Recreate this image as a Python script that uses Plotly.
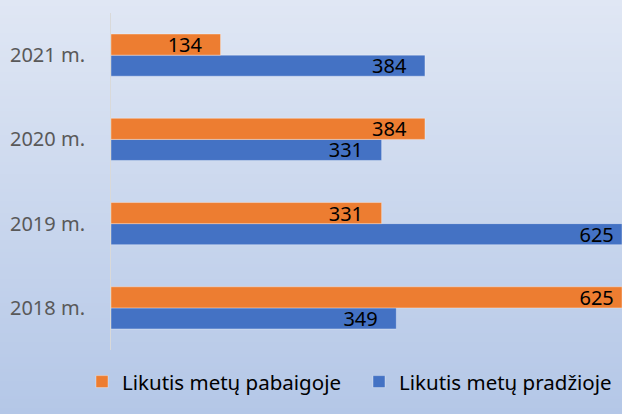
import plotly.graph_objects as go

categories = ["2018 m.", "2019 m.", "2020 m.", "2021 m."]
pabaigoje = [625, 331, 384, 134]
pradzioje = [349, 625, 331, 384]
series_names = ["Likutis metų pabaigoje", "Likutis metų pradžioje"]

FONT = "Noto Sans"
W, H = 622, 414
L, R, T, B = 111, 0, 13, 64
XMAX = 625

NB = "\u00a0"


def labels(vals):
    # Excel-like "inside end" padding; labels at the chart edge sit closer
    return [str(v) + (NB if v >= XMAX else NB * 3) for v in vals]


fig = go.Figure()
fig.add_trace(go.Bar(
    y=categories, x=pradzioje, orientation="h", name=series_names[1],
    marker=dict(color="#4472c4", line=dict(color="rgba(255,255,255,0.35)", width=1)),
    text=labels(pradzioje), textposition="inside", insidetextanchor="end",
    textfont=dict(family=FONT, size=20, color="#000000"), constraintext="none",
    legendrank=2, hoverinfo="skip",
))
fig.add_trace(go.Bar(
    y=categories, x=pabaigoje, orientation="h", name=series_names[0],
    marker=dict(color="#ed7d31", line=dict(color="rgba(255,255,255,0.35)", width=1)),
    text=labels(pabaigoje), textposition="inside", insidetextanchor="end",
    textfont=dict(family=FONT, size=20, color="#000000"), constraintext="none",
    legendrank=1, hoverinfo="skip",
))

# background gradient (stripes in paper coordinates)
ph = H - T - B
pw = W - L - R
shapes = []
top_c = (224, 231, 244)
bot_c = (180, 199, 231)
n = 138
for i in range(n):
    py0 = i * H / n
    py1 = (i + 1) * H / n + 0.6
    f = (i + 0.5) / n
    c = tuple(round(top_c[k] + (bot_c[k] - top_c[k]) * f) for k in range(3))
    y0 = (H - B - py1) / ph
    y1 = (H - B - py0) / ph
    shapes.append(dict(type="rect", xref="paper", yref="paper",
                       x0=-L / pw - 0.05, x1=1.05, y0=y0, y1=y1, layer="below",
                       line=dict(width=0), fillcolor="rgb(%d,%d,%d)" % c))

fig.update_layout(
    width=W, height=H,
    margin=dict(l=L, r=R, t=T, b=B, pad=0, autoexpand=False),
    barmode="group", bargap=0.5, bargroupgap=0,
    paper_bgcolor="rgb(200,212,236)", plot_bgcolor="rgba(0,0,0,0)",
    shapes=shapes,
    font=dict(family=FONT, color="#595959"),
    xaxis=dict(range=[0, XMAX], visible=False, fixedrange=True, automargin=False),
    yaxis=dict(
        type="category", categoryorder="array", categoryarray=categories,
        showline=True, linecolor="#d9d9d9", linewidth=1,
        showgrid=False, ticks="", ticklen=0, automargin=False,
        tickfont=dict(family=FONT, size=20, color="#595959"),
        ticklabelstandoff=21,
    ),
    legend=dict(
        orientation="h", x=(82 - L) / pw, xanchor="left", y=-0.035, yanchor="top",
        bgcolor="rgba(0,0,0,0)",
        font=dict(family=FONT, size=20.5, color="#000000"),
        itemwidth=30, traceorder="normal",
        entrywidth=232, entrywidthmode="pixels",
    ),
    showlegend=True,
)

fig.write_html(
    "out.html",
    config={"displayModeBar": False},
    post_script="document.body.style.margin='0';document.body.style.overflow='hidden';",
)
